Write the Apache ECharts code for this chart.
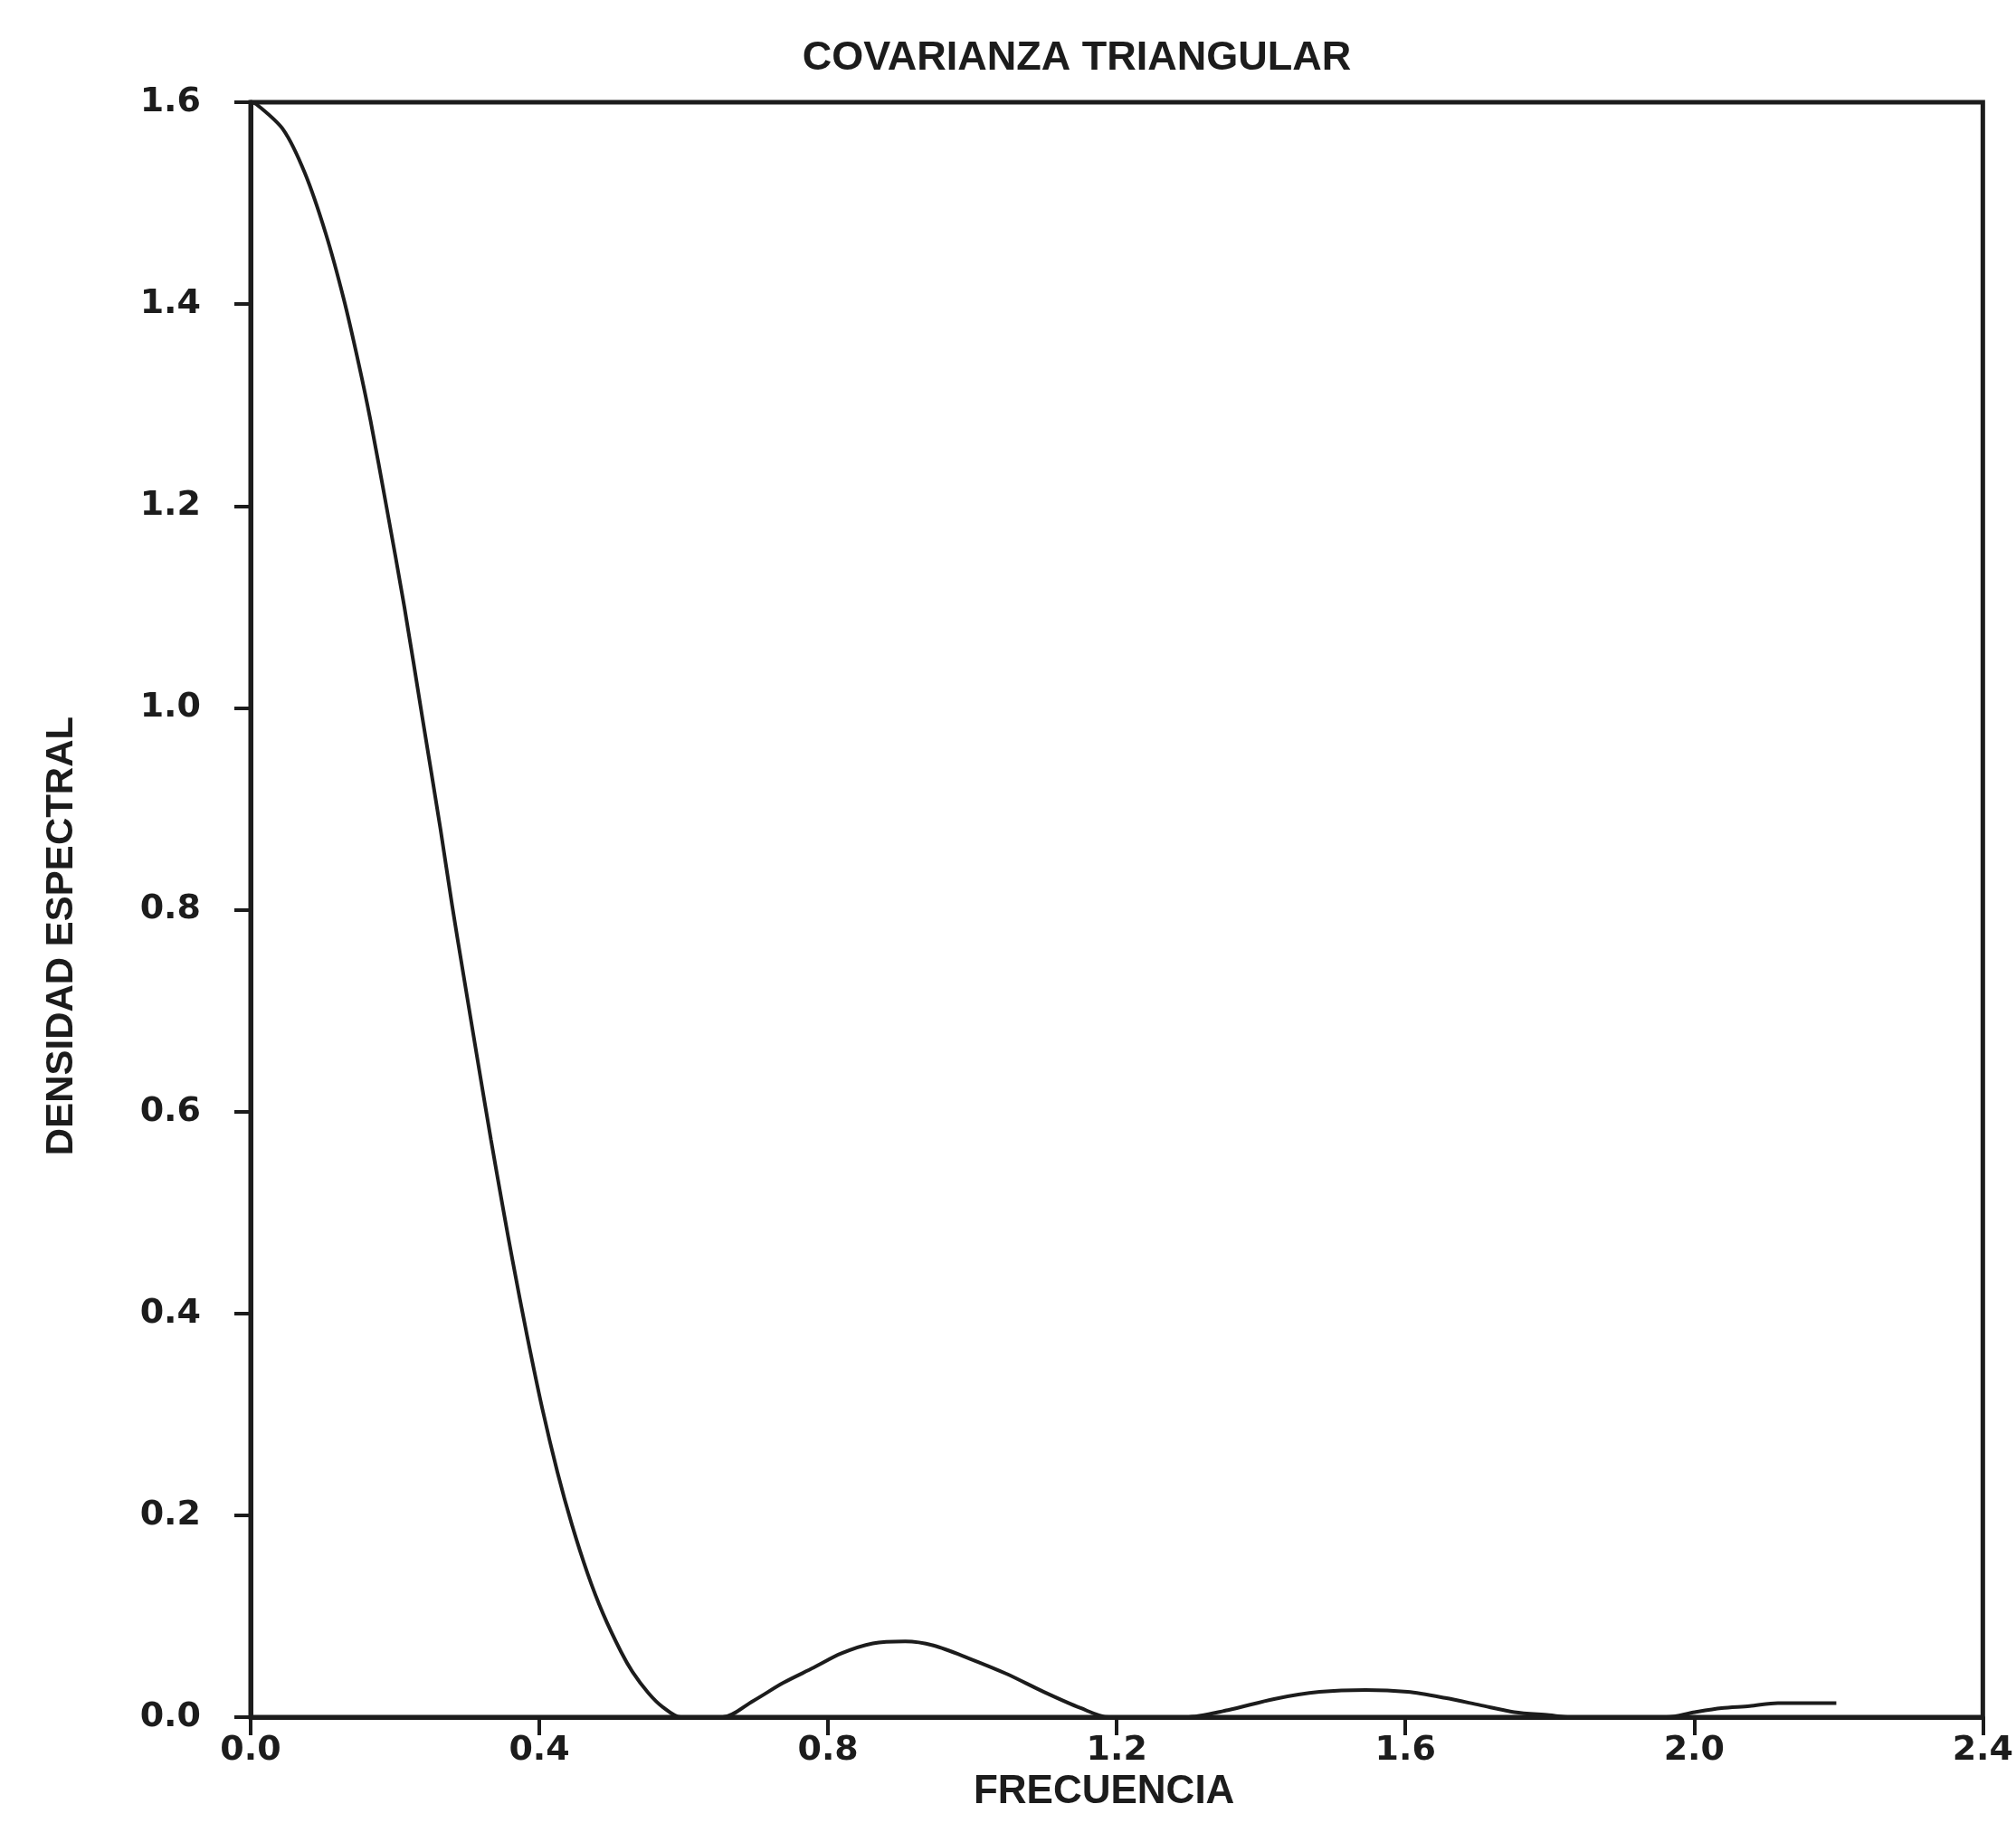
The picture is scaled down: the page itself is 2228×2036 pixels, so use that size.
<!DOCTYPE html>
<html>
<head>
<meta charset="utf-8">
<script src="https://cdn.jsdelivr.net/npm/echarts@6/dist/echarts.min.js"></script>
<style>
html,body{margin:0;padding:0;background:#fff;}
#chart{width:2228px;height:2036px;}
</style>
</head>
<body>
<div id="chart"></div>
<script>
// Data
const titleText = "COVARIANZA TRIANGULAR";
const xAxisName = "FRECUENCIA";
const yAxisName = "DENSIDAD ESPECTRAL";
const xTicks = [0.0, 0.4, 0.8, 1.2, 1.6, 2.0, 2.4];
const yTicks = [0.0, 0.2, 0.4, 0.6, 0.8, 1.0, 1.2, 1.4, 1.6];
const frequency = [
  0.000, 0.008, 0.045, 0.075, 0.104, 0.129, 0.150, 0.166, 0.188, 0.213,
  0.238, 0.263, 0.279, 0.295, 0.317, 0.333, 0.350, 0.363, 0.383, 0.404,
  0.425, 0.445, 0.467, 0.488, 0.513, 0.529, 0.551, 0.571, 0.596, 0.654,
  0.696, 0.738, 0.780, 0.818, 0.862, 0.907, 0.946, 0.996, 1.047, 1.099,
  1.150, 1.189, 1.296, 1.354, 1.418, 1.481, 1.545, 1.603, 1.655, 1.703,
  1.751, 1.799, 1.828, 1.962, 2.001, 2.038, 2.077, 2.116, 2.197
];
const density = [
  1.600, 1.598, 1.573, 1.530, 1.470, 1.405, 1.340, 1.285, 1.200, 1.100,
  0.990, 0.880, 0.805, 0.735, 0.640, 0.572, 0.503, 0.452, 0.378, 0.306,
  0.243, 0.191, 0.142, 0.103, 0.065, 0.045, 0.024, 0.010, 0.000, 0.000,
  0.016, 0.034, 0.049, 0.063, 0.073, 0.075, 0.071, 0.058, 0.043, 0.025,
  0.009, 0.000, 0.000, 0.007, 0.018, 0.025, 0.027, 0.025, 0.019, 0.012,
  0.005, 0.002, 0.000, 0.000, 0.005, 0.009, 0.011, 0.014, 0.014
];

const ink = '#1c1c1c';
const labelFont = "'DejaVu Sans', 'Liberation Sans', sans-serif";
const nameFont = "'Liberation Sans Narrow', 'Liberation Sans', Arial, sans-serif";

const chart = echarts.init(document.getElementById('chart'), null, {renderer: 'canvas'});
chart.setOption({
  animation: false,
  backgroundColor: '#ffffff',
  title: {
    text: titleText,
    left: 1190,
    top: 42,
    padding: 0,
    textAlign: 'center',
    textStyle: {fontFamily: nameFont, fontWeight: 'bold', fontSize: 45, color: ink}
  },
  grid: {
    left: 277, top: 113, width: 1918, height: 1785,
    show: true, borderColor: ink, borderWidth: 5, backgroundColor: 'transparent'
  },
  xAxis: {
    type: 'value',
    min: xTicks[0], max: xTicks[xTicks.length - 1], interval: 0.4,
    name: xAxisName,
    nameLocation: 'middle',
    nameGap: 54,
    nameTextStyle: {fontFamily: nameFont, fontWeight: 'bold', fontSize: 44, color: ink, padding: [0, 28, 0, 0]},
    axisLine: {show: true, lineStyle: {color: ink, width: 5}},
    axisTick: {show: true, inside: false, length: 20, lineStyle: {color: ink, width: 4}},
    splitLine: {show: false},
    axisLabel: {
      margin: 18, fontFamily: labelFont, fontWeight: 'bold', fontSize: 38, color: ink,
      formatter: v => v.toFixed(1)
    }
  },
  yAxis: {
    type: 'value',
    min: yTicks[0], max: yTicks[yTicks.length - 1], interval: 0.2,
    name: yAxisName,
    nameLocation: 'middle',
    nameGap: 188,
    nameRotate: 90,
    nameTextStyle: {fontFamily: nameFont, fontWeight: 'bold', fontSize: 42, color: ink, padding: [0, 58, 0, 0]},
    axisLine: {show: true, lineStyle: {color: ink, width: 5}},
    axisTick: {show: true, inside: false, length: 18, lineStyle: {color: ink, width: 4}},
    splitLine: {show: false},
    axisLabel: {
      margin: 55, fontFamily: labelFont, fontWeight: 'bold', fontSize: 38, color: ink,
      formatter: v => v.toFixed(1)
    }
  },
  series: [{
    type: 'line',
    data: frequency.map((f, i) => [f, density[i]]),
    showSymbol: false,
    smooth: 0.3,
    lineStyle: {color: ink, width: 4},
    clip: false
  }]
});
</script>
</body>
</html>
